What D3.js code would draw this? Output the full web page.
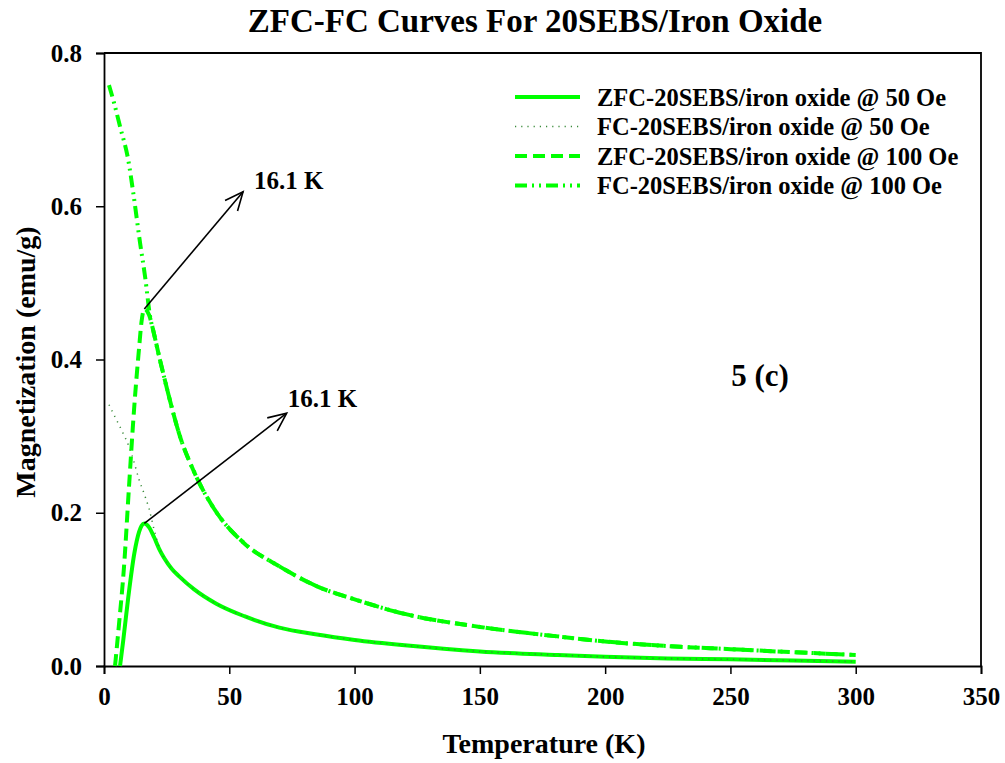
<!DOCTYPE html>
<html>
<head>
<meta charset="utf-8">
<script src="https://cdn.jsdelivr.net/npm/d3@7"></script>
<style>
  html, body { margin: 0; padding: 0; background: #fff; }
  svg text { font-family: "Liberation Serif", "Times New Roman", serif; font-weight: bold; fill: #000; }
</style>
</head>
<body>
<svg id="chart" width="1005" height="763"></svg>
<script>
// ZFC 50 Oe: rise to the blocking peak, then common paramagnetic tail
const zfc50T = [6.4, 7.7, 9.7, 12.1, 14, 15, 16.1, 18, 20, 22];
const zfc50M = [0, 0.034, 0.090, 0.147, 0.175, 0.183, 0.186, 0.181, 0.168, 0.153];
// FC 50 Oe below the merge point
const fc50T = [2, 5, 7, 10, 12, 14, 16, 18, 20, 22];
const fc50M = [0.341, 0.321, 0.308, 0.286, 0.266, 0.243, 0.225, 0.205, 0.178, 0.155];
// ZFC 100 Oe
const zfc100T = [4.4, 6, 8, 10, 12, 14, 15, 16.1, 18, 20, 22];
const zfc100M = [0, 0.055, 0.130, 0.235, 0.335, 0.415, 0.450, 0.466, 0.458, 0.433, 0.404];
// FC 100 Oe
const fc100T = [2, 4, 6.4, 9.7, 11.7, 14.4, 16.4, 18.4, 20, 22];
const fc100M = [0.758, 0.735, 0.704, 0.660, 0.617, 0.552, 0.508, 0.456, 0.433, 0.404];
// Above ~22 K the ZFC and FC branches coincide
const tailT = [24, 27, 30, 36, 45, 56, 70, 85, 100, 120, 150, 180, 200, 225, 250, 275, 300];
const tail50M = [0.141, 0.127, 0.117, 0.100, 0.081, 0.065, 0.050, 0.041, 0.034, 0.027, 0.019, 0.0145, 0.012, 0.0098, 0.0087, 0.0072, 0.0057];
const tail100M = [0.377, 0.338, 0.303, 0.253, 0.200, 0.160, 0.130, 0.104, 0.087, 0.068, 0.051, 0.039, 0.032, 0.026, 0.022, 0.018, 0.0145];

const xTicks = [0, 50, 100, 150, 200, 250, 300, 350];
const yTicks = [0.0, 0.2, 0.4, 0.6, 0.8];

const seriesNames = [
  "ZFC-20SEBS/iron oxide @ 50 Oe",
  "FC-20SEBS/iron oxide @ 50 Oe",
  "ZFC-20SEBS/iron oxide @ 100 Oe",
  "FC-20SEBS/iron oxide @ 100 Oe"
];
// Blocking temperature annotations: peak position, arrow tip, label
const peakT = [16.1, 16.1];
const peakM = [0.466, 0.186];
const tipT = [55.5, 72.9];
const tipM = [0.619, 0.330];
const peakLabels = ["16.1 K", "16.1 K"];

const svg = d3.select("#chart");
const plotLeft = 104, plotRight = 981, plotTop = 53, plotBottom = 666;

const x = d3.scaleLinear().domain([0, 350]).range([plotLeft, plotRight]);
const y = d3.scaleLinear().domain([0, 0.8]).range([plotBottom, plotTop]);

const zip = (ts, ms) => ts.map((t, i) => [t, ms[i]]);
const series = [
  zip(zfc50T.concat(tailT), zfc50M.concat(tail50M)),
  zip(fc50T.concat(tailT), fc50M.concat(tail50M)),
  zip(zfc100T.concat(tailT), zfc100M.concat(tail100M)),
  zip(fc100T.concat(tailT), fc100M.concat(tail100M))
];

const styles = [
  { stroke: "#00ff00", width: 4, dash: null },
  { stroke: "#3a8a3a", width: 1.5, dash: "1.2,5" },
  { stroke: "#00ff00", width: 4, dash: "12,6" },
  { stroke: "#00ff00", width: 4, dash: "12,5,2,5,2,5" }
];

const line = d3.line().x(d => x(d[0])).y(d => y(d[1])).curve(d3.curveMonotoneX);

// Frame (top and right edges)
svg.append("path")
  .attr("d", `M${plotLeft},${plotTop}H${plotRight}V${plotBottom}`)
  .attr("fill", "none").attr("stroke", "#000").attr("stroke-width", 1.8);

// Axes
const xAxis = svg.append("g").attr("transform", `translate(0,${plotBottom})`)
  .call(d3.axisBottom(x).tickValues(xTicks).tickSize(8).tickPadding(8).tickFormat(d3.format("d")));
const yAxis = svg.append("g").attr("transform", `translate(${plotLeft},0)`)
  .call(d3.axisLeft(y).tickValues(yTicks).tickSize(8).tickPadding(14).tickFormat(d3.format(".1f")));
[xAxis, yAxis].forEach(g => {
  g.select(".domain").attr("stroke", "#000").attr("stroke-width", 1.8);
  g.selectAll(".tick line").attr("stroke", "#000").attr("stroke-width", 1.5);
  g.selectAll(".tick text")
    .attr("font-family", "Liberation Serif, Times New Roman, serif")
    .attr("font-weight", "bold").attr("font-size", 25).attr("fill", "#000");
});
xAxis.selectAll(".tick text").attr("dy", "0.9em");

// Curves
series.forEach((s, i) => {
  svg.append("path").datum(s)
    .attr("d", line)
    .attr("fill", "none")
    .attr("stroke", styles[i].stroke)
    .attr("stroke-width", styles[i].width)
    .attr("stroke-dasharray", styles[i].dash)
    .attr("stroke-linejoin", "round");
});

// Arrows marking the blocking temperature
const labelDx = [11, 1];
const labelDy = [-3, -6];
peakT.forEach((t, i) => {
  const x0 = x(t), y0 = y(peakM[i]), x1 = x(tipT[i]), y1 = y(tipM[i]);
  const ang = Math.atan2(y1 - y0, x1 - x0);
  const head = 20, spread = 0.42;
  svg.append("line").attr("x1", x0).attr("y1", y0).attr("x2", x1).attr("y2", y1)
    .attr("stroke", "#000").attr("stroke-width", 1.6);
  svg.append("path")
    .attr("d", `M${x1 - head * Math.cos(ang - spread)},${y1 - head * Math.sin(ang - spread)}L${x1},${y1}L${x1 - head * Math.cos(ang + spread)},${y1 - head * Math.sin(ang + spread)}`)
    .attr("fill", "none").attr("stroke", "#000").attr("stroke-width", 1.6);
  svg.append("text").attr("x", x1 + labelDx[i]).attr("y", y1 + labelDy[i])
    .attr("font-size", 25).text(peakLabels[i]);
});

// Panel tag
svg.append("text").attr("x", 760).attr("y", 386).attr("text-anchor", "middle")
  .attr("font-size", 31).text("5 (c)");

// Title and axis titles
svg.append("text").attr("x", 535).attr("y", 32).attr("text-anchor", "middle")
  .attr("font-size", 33).text("ZFC-FC Curves For 20SEBS/Iron Oxide");
svg.append("text").attr("x", 544).attr("y", 753).attr("text-anchor", "middle")
  .attr("font-size", 28).text("Temperature (K)");
svg.append("text").attr("transform", "translate(35,362) rotate(-90)").attr("text-anchor", "middle")
  .attr("font-size", 28).text("Magnetization (emu/g)");

// Legend
const legend = svg.append("g");
seriesNames.forEach((name, i) => {
  const cy = 97 + i * 29.5;
  legend.append("line").attr("x1", 515).attr("x2", 580).attr("y1", cy).attr("y2", cy)
    .attr("stroke", styles[i].stroke).attr("stroke-width", styles[i].width)
    .attr("stroke-dasharray", styles[i].dash);
  legend.append("text").attr("x", 597).attr("y", cy + 8.5).attr("font-size", 24.5).text(name);
});
</script>
</body>
</html>
